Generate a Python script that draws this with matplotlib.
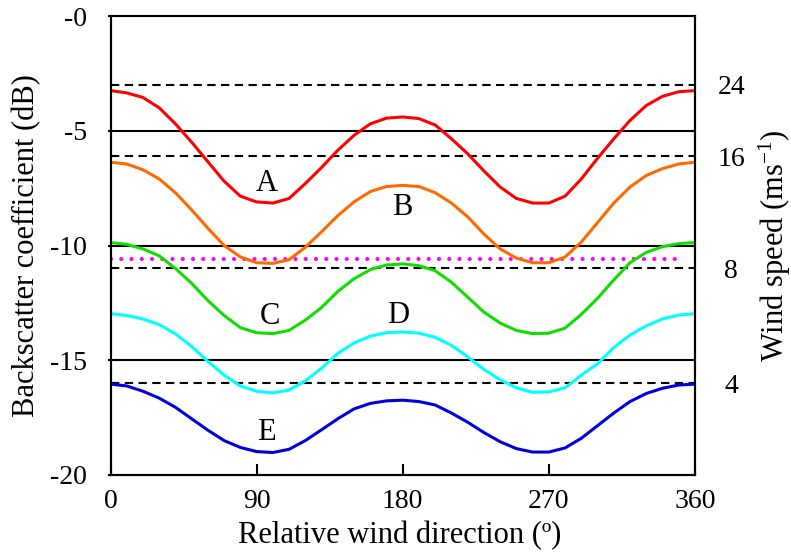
import matplotlib
matplotlib.use("Agg")
import matplotlib.pyplot as plt

plt.rcParams["font.family"] = ["Liberation Serif", "DejaVu Serif"]
plt.rcParams["mathtext.fontset"] = "custom"
plt.rcParams["mathtext.rm"] = "Liberation Serif"
plt.rcParams["mathtext.it"] = "Liberation Serif:italic"

# relative wind direction (deg), 10 deg steps
direction = list(range(0, 361, 10))

# backscatter coefficient (dB)
curve_a = [-3.25, -3.35, -3.55, -4.0, -4.7, -5.5, -6.35, -7.2, -7.85, -8.1,
           -8.15, -7.95, -7.3, -6.6, -5.85, -5.2, -4.7, -4.45, -4.4,
           -4.47, -4.75, -5.35, -6.0, -6.75, -7.45, -7.95, -8.15, -8.15,
           -7.85, -7.1, -6.2, -5.35, -4.55, -3.9, -3.5, -3.3, -3.25]
curve_b = [-6.37, -6.45, -6.7, -7.1, -7.7, -8.45, -9.25, -10.0, -10.5, -10.75,
           -10.78, -10.62, -10.08, -9.4, -8.7, -8.1, -7.65, -7.43, -7.38,
           -7.43, -7.7, -8.15, -8.75, -9.5, -10.15, -10.55, -10.75, -10.75,
           -10.5, -9.85, -9.0, -8.15, -7.45, -6.95, -6.65, -6.45, -6.37]
curve_c = [-9.87, -9.95, -10.15, -10.45, -11.0, -11.65, -12.4, -13.05, -13.58, -13.8,
           -13.84, -13.7, -13.25, -12.7, -12.0, -11.45, -11.05, -10.85, -10.8,
           -10.88, -11.1, -11.6, -12.25, -12.9, -13.38, -13.7, -13.84, -13.82,
           -13.6, -13.0, -12.3, -11.5, -10.75, -10.3, -10.05, -9.92, -9.87]
curve_d = [-12.97, -13.05, -13.2, -13.45, -13.85, -14.4, -15.05, -15.65, -16.12, -16.35,
           -16.42, -16.3, -15.9, -15.35, -14.7, -14.25, -13.95, -13.8, -13.77,
           -13.82, -14.0, -14.35, -14.85, -15.4, -15.85, -16.2, -16.4, -16.38,
           -16.2, -15.65, -15.15, -14.45, -13.9, -13.5, -13.2, -13.03, -12.97]
curve_e = [-16.04, -16.12, -16.35, -16.65, -17.05, -17.55, -18.05, -18.5, -18.8, -18.98,
           -19.02, -18.88, -18.5, -18.03, -17.55, -17.12, -16.88, -16.77, -16.74,
           -16.8, -16.95, -17.3, -17.7, -18.15, -18.55, -18.85, -19.0, -19.0,
           -18.82, -18.4, -17.85, -17.3, -16.8, -16.45, -16.22, -16.08, -16.04]

curves = [curve_a, curve_b, curve_c, curve_d, curve_e]
curve_colors = ["#ff0000", "#ff6a00", "#11dd00", "#00ffff", "#0000dd"]

# curve labels: name, direction, dB (baseline)
label_names = ["A", "B", "C", "D", "E"]
label_dir = [96, 180, 98, 177, 96]
label_db = [-7.64, -8.65, -13.43, -13.38, -18.48]

# wind speed reference levels (right axis) and their dB positions
wind_speed = ["24", "16", "8", "4"]
wind_db = [-3.0, -6.1, -11.0, -16.0]

# magenta dotted level
dotted_dir = [0, 350]
dotted_db = [-10.6, -10.6]

y_ticks = [0, -5, -10, -15, -20]
y_tick_labels = ["-0", "-5", "-10", "-15", "-20"]
x_ticks = [0, 90, 180, 270, 360]

fig = plt.figure(figsize=(7.91, 5.54), dpi=100)
ax = fig.add_axes([0.1397, 0.1426, 0.7389, 0.8285])

ax.set_xlim(0, 360)
ax.set_ylim(-20, 0)

for yv in y_ticks[1:-1]:
    ax.axhline(yv, color="black", linewidth=1.5, zorder=1)
for yv in wind_db:
    ax.axhline(yv, color="black", linewidth=1.5, linestyle=(0, (4, 2.6)), zorder=1)

ax.plot(dotted_dir, dotted_db, color="#ff00ff", linewidth=3.0,
        linestyle=(0, (0.01, 2.45)), dash_capstyle="round", zorder=2)

for vals, col in zip(curves, curve_colors):
    ax.plot(direction, vals, color=col, linewidth=2.2, zorder=3,
            solid_joinstyle="round", solid_capstyle="butt")

for name, xd, yd in zip(label_names, label_dir, label_db):
    ax.text(xd, yd, name, fontsize=22, ha="center", va="baseline", zorder=4)

ax.set_xticks(x_ticks)
ax.set_yticks(y_ticks)
ax.set_yticklabels(y_tick_labels)
ax.tick_params(axis="x", direction="in", length=8, width=1.5, labelsize=20, pad=10)
ax.tick_params(axis="y", direction="out", length=2, width=1.5, labelsize=20, pad=15)
for sp in ax.spines.values():
    sp.set_linewidth(1.5)

ax.set_xlabel("Relative wind direction (º)", fontsize=22)
ax.xaxis.set_label_coords(0.495, -0.10)
ax.set_ylabel("Backscatter coefficient (dB)", fontsize=22)
ax.yaxis.set_label_coords(-0.118, 0.5)

ax2 = ax.twinx()
ax2.set_ylim(ax.get_ylim())
ax2.set_yticks(wind_db)
ax2.set_yticklabels(wind_speed)
ax2.tick_params(axis="y", length=0, labelsize=20, pad=26)
for lab in ax2.get_yticklabels():
    lab.set_horizontalalignment("center")
for sp in ax2.spines.values():
    sp.set_linewidth(1.5)
ax2.set_ylabel(r"Wind speed (ms$^{\mathrm{-1}}$)", fontsize=22)
ax2.yaxis.set_label_coords(1.105, 0.5)

fig.savefig("out.png", dpi=100)
